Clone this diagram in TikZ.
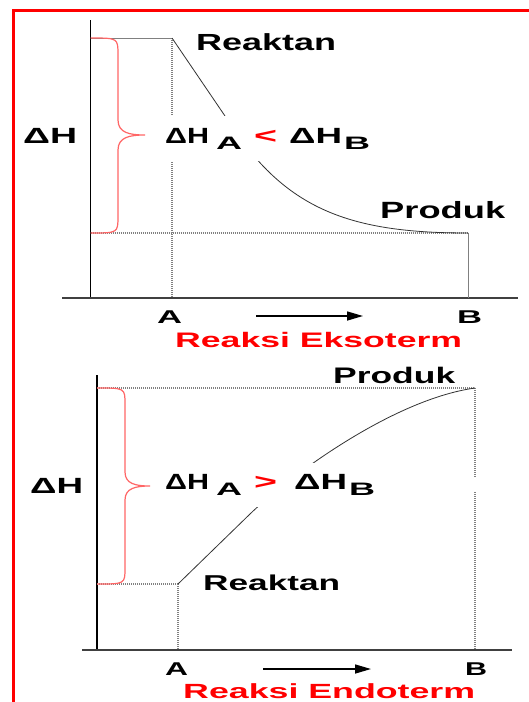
\documentclass[tikz,border=0pt]{standalone}
\usepackage{fontspec}
\setmainfont{Liberation Sans}
\usepackage{graphicx}
\usetikzlibrary{arrows.meta}

\newcommand{\stretchbox}[2]{\resizebox{#1}{\height}{#2}}
\newcommand{\fsz}[1]{\fontsize{#1}{#1}\selectfont}
% Delta H_A <> Delta H_B, #1 = sign, #2 = gap before Delta H_B
\newcommand{\dHcmp}[2]{%
  \stretchbox{44pt}{ΔH}\hspace{7pt}%
  \raisebox{-6pt}{\fsz{18}\stretchbox{26pt}{A}}\hspace{12pt}%
  \textcolor{red}{\stretchbox{23pt}{#1}}\hspace{#2}%
  \stretchbox{53pt}{ΔH}\hspace{2pt}%
  \raisebox{-6pt}{\fsz{18}\stretchbox{26pt}{B}}}

\tikzset{
  lbl/.style={anchor=base west, inner sep=0pt},
  redlbl/.style={lbl, text=red},
  cmpbox/.style={lbl, fill=white, inner xsep=2pt, inner ysep=11.5pt, font=\fsz{22}\bfseries},
  axis/.style={line width=1.5pt},
  dots/.style={gray, line width=1.2pt, dash pattern=on 1pt off 1pt},
  level/.style={gray, line width=0.9pt},
  curve/.style={black!80, line width=0.8pt},
  brc/.style={red!60, line width=1.2pt},
  fwd/.style={line width=1.5pt, -{Triangle[length=16pt,width=9pt]}}
}

\begin{document}
\begin{tikzpicture}[x=1pt, y=-1pt]
  \useasboundingbox (0,0) rectangle (529,702);
  \fill[white] (0,0) rectangle (529,702);
  % red frame
  \draw[red, line width=3pt] (531,10.5) -- (13.5,10.5) -- (13.5,704);

  % ---- exotherm ----
  \coordinate (top1) at (90.5,20);
  \coordinate (o1) at (90.5,298);
  \coordinate (xl1) at (62,298);
  \coordinate (xr1) at (518,298);
  \coordinate (hr1) at (90.5,38);
  \coordinate (ra1) at (172,38);
  \coordinate (a1) at (172,298);
  \coordinate (hp1) at (90.5,233);
  \coordinate (pb1) at (468,233);
  \coordinate (b1) at (468,298);

  \draw[axis] (top1) -- (o1);
  \draw[axis, black!75] (xl1) -- (xr1);
  \draw[level] (hr1) -- (ra1);
  \draw[dots] (ra1) -- (a1);
  \draw[dots] (hp1) -- (pb1);
  \draw[level] (pb1) -- (b1);
  \draw[curve] (ra1) -- (228,120.4) .. controls (285,210) and (350,233) .. (pb1);
  \draw[brc] (hr1) .. controls (118,38) .. (118,55) -- (118,120)
    .. controls (118,133) and (130,135) .. (145,135)
    .. controls (130,135) and (118,137) .. (118,150) -- (118,216)
    .. controls (118,233) .. (hp1);

  \node[cmpbox] (cmp1) at (163,143) {\dHcmp{<}{12pt}};
  \node[lbl, font=\fsz{23.3}\bfseries] (reak1) at (196,50) {\stretchbox{140pt}{Reaktan}};
  \node[lbl, font=\fsz{23.5}\bfseries] (prod1) at (380,218) {\stretchbox{125pt}{Produk}};
  \node[lbl, font=\fsz{22}\bfseries] (dh1) at (23,143) {\stretchbox{54pt}{ΔH}};
  \node[lbl, font=\fsz{18.5}\bfseries] (la1) at (157,323) {\stretchbox{25pt}{A}};
  \node[lbl, font=\fsz{18.5}\bfseries] (lb1) at (457,323) {\stretchbox{25pt}{B}};
  \coordinate (s1) at (256,316);
  \coordinate (e1) at (363,316);
  \draw[fwd] (s1) -- (e1);
  \node[redlbl, font=\fsz{21}\bfseries] (exo) at (175,347) {\stretchbox{287pt}{Reaksi Eksoterm}};

  % ---- endotherm ----
  \coordinate (top2) at (97,375);
  \coordinate (o2) at (97,650);
  \coordinate (xl2) at (82,650);
  \coordinate (xr2) at (512,650);
  \coordinate (hp2) at (97,388);
  \coordinate (pb2) at (475,388);
  \coordinate (gap2a) at (475,478);
  \coordinate (gap2b) at (475,492);
  \coordinate (b2) at (475,650);
  \coordinate (hr2) at (97,584);
  \coordinate (ra2) at (178,584);
  \coordinate (a2) at (178,650);

  \draw[axis] (top2) -- (o2);
  \draw[axis, black!75] (xl2) -- (xr2);
  \draw[dots] (hp2) -- (pb2);
  \draw[dots] (pb2) -- (gap2a);
  \draw[dots] (gap2b) -- (b2);
  \draw[dots] (hr2) -- (ra2);
  \draw[dots] (ra2) -- (a2);
  \draw[curve] (ra2) -- (250,514) .. controls (285,480) and (390,400) .. (pb2);
  \draw[brc] (hp2) .. controls (125,388) .. (125,404) -- (125,472)
    .. controls (125,484) and (136,486) .. (150,486)
    .. controls (136,486) and (125,488) .. (125,500) -- (125,568)
    .. controls (125,584) .. (hr2);

  \node[cmpbox, yshift=3.5pt] (cmp2) at (163,493) {\dHcmp{>}{17pt}};
  \node[lbl, font=\fsz{22.5}\bfseries] (prod2) at (333,383) {\stretchbox{122pt}{Produk}};
  \node[lbl, font=\fsz{21.5}\bfseries] (reak2) at (203,590) {\stretchbox{137pt}{Reaktan}};
  \node[lbl, font=\fsz{22}\bfseries] (dh2) at (30,493) {\stretchbox{53pt}{ΔH}};
  \node[lbl, font=\fsz{18.5}\bfseries] (la2) at (165,675) {\stretchbox{23pt}{A}};
  \node[lbl, font=\fsz{18.5}\bfseries] (lb2) at (465,675) {\stretchbox{22pt}{B}};
  \coordinate (s2) at (263,669);
  \coordinate (e2) at (371,669);
  \draw[fwd] (s2) -- (e2);
  \node[redlbl, font=\fsz{20.5}\bfseries] (endo) at (183,698.5) {\stretchbox{292pt}{Reaksi Endoterm}};
\end{tikzpicture}
\end{document}
